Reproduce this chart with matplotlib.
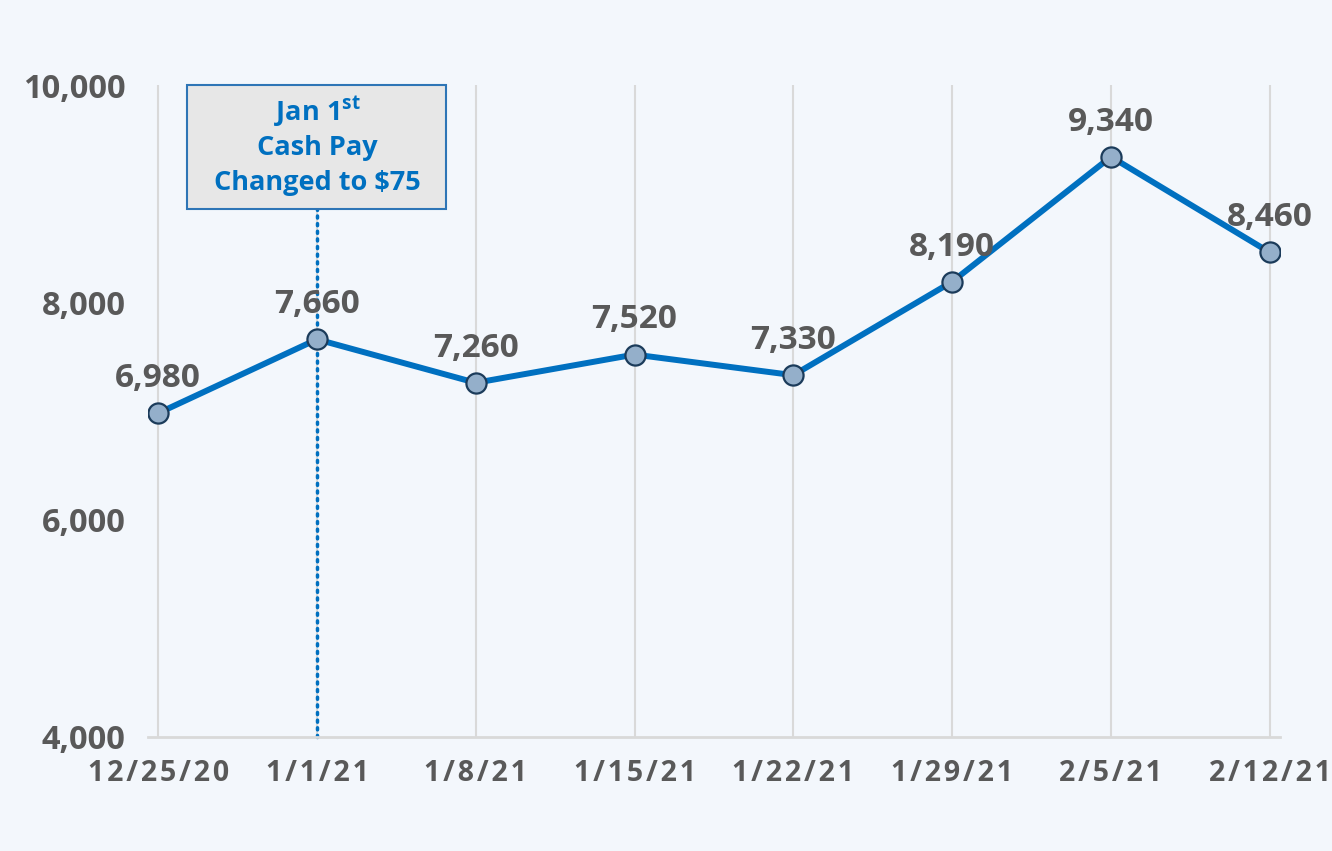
import matplotlib
matplotlib.use("Agg")
import matplotlib.pyplot as plt
from matplotlib.patches import Rectangle

# data
weeks = ["12/25/20", "1/1/21", "1/8/21", "1/15/21", "1/22/21", "1/29/21", "2/5/21", "2/12/21"]
counts = [6980, 7660, 7260, 7520, 7330, 8190, 9340, 8460]
y_ticks = [4000, 6000, 8000, 10000]
event_week = "1/1/21"

BG = "#F3F7FC"
BLUE = "#0070C0"
GRAY_TXT = "#595959"
GRID = "#D9D9D9"

plt.rcParams["font.family"] = ["Open Sans", "DejaVu Sans"]
plt.rcParams["mathtext.fontset"] = "custom"
plt.rcParams["mathtext.bf"] = "Open Sans:bold"

fig = plt.figure(figsize=(13.32, 8.51), dpi=100, facecolor=BG)
ax = fig.add_axes([0.111, 0.134, 0.850, 0.766])
ax.set_facecolor(BG)

x = list(range(len(weeks)))
ax.plot(x, counts, color=BLUE, lw=4.3, zorder=3,
        marker="o", ms=14.5, mfc="#94AFCA", mec="#1B3B5A", mew=1.6)

for xi, v in zip(x, counts):
    ax.annotate(f"{v:,}", (xi, v), xytext=(0, 13), textcoords="offset points",
                ha="center", va="bottom", fontsize=24, fontweight="bold",
                color=GRAY_TXT, zorder=4)

ax.set_xlim(-0.065, len(weeks) - 1 + 0.065)
ax.set_ylim(4000, 10000)
ax.set_yticks(y_ticks)
ax.set_yticklabels([f"{t:,}" for t in y_ticks])
ax.set_xticks(x)
# spaced-out lettering like the original axis labels
ax.set_xticklabels(["\u200a".join(w) for w in weeks])
ax.tick_params(axis="y", length=0, pad=16, labelsize=23.5, labelcolor=GRAY_TXT)
ax.tick_params(axis="x", length=0, pad=16, labelcolor=GRAY_TXT)
for lab in ax.get_yticklabels():
    lab.set_fontweight("bold")
for lab in ax.get_xticklabels():
    lab.set_fontweight("bold")
    lab.set_fontsize(20.5)

ax.grid(axis="x", color=GRID, lw=1.5, zorder=0)
for s in ["left", "right", "top"]:
    ax.spines[s].set_visible(False)
ax.spines["bottom"].set_color(GRID)
ax.spines["bottom"].set_linewidth(2)

# event marker
ex = weeks.index(event_week)
box_bottom = 8860
ax.plot([ex, ex], [4000, box_bottom], color=BLUE, lw=2.5, ls=(0, (0.6, 1.6)),
        dash_capstyle="round", zorder=2, clip_on=False)
ax.add_patch(Rectangle((ex - 0.817, box_bottom), 1.632, 10000 - box_bottom,
                       facecolor="#E7E7E7", edgecolor="#2E75B6", lw=1.5,
                       zorder=5, clip_on=False))
ax.text(ex, 9760, r"Jan 1$^{\mathbf{st}}$", ha="center", va="center",
        fontsize=19.5, fontweight="bold", color=BLUE, zorder=6)
ax.text(ex, 9425, "Cash Pay", ha="center", va="center",
        fontsize=19.5, fontweight="bold", color=BLUE, zorder=6)
ax.text(ex, 9100, r"Changed to \$75", ha="center", va="center",
        fontsize=19.5, fontweight="bold", color=BLUE, zorder=6)

fig.savefig("out.png", dpi=100, facecolor=BG)
